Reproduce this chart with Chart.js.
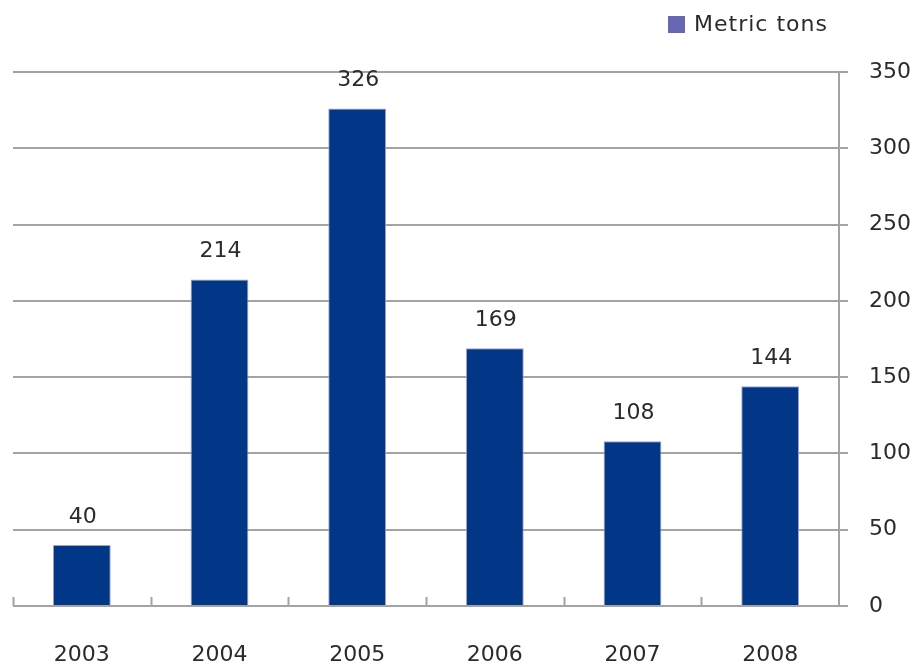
<!DOCTYPE html>
<html>
<head>
<meta charset="utf-8">
<script src="https://cdn.jsdelivr.net/npm/chart.js@4.4.0/dist/chart.umd.min.js"></script>
<style>
    html, body { margin: 0; padding: 0; background: #fff; }
    #wrap { width: 912px; height: 666px; }
</style>
</head>
<body>
<div id="wrap"><canvas id="chart" width="912" height="666"></canvas></div>
<script>
// chart data
const years = ['2003', '2004', '2005', '2006', '2007', '2008'];
const metricTons = [40, 214, 326, 169, 108, 144];
const seriesName = 'Metric tons';
const yTicks = [0, 50, 100, 150, 200, 250, 300, 350];

const BAR_COLOR = '#023686';
const LEGEND_COLOR = '#6666b3';
const GRID_COLOR = '#a3a3a3';
const TEXT_COLOR = '#2b2b2b';
const FONT = "'DejaVu Sans', Verdana, sans-serif";

// value labels above bars, category tick marks, legend
const extras = {
    id: 'extras',
    afterDatasetsDraw(chart) {
        const ctx = chart.ctx;
        const meta = chart.getDatasetMeta(0);
        ctx.save();
        ctx.fillStyle = TEXT_COLOR;
        ctx.font = `22px ${FONT}`;
        ctx.textAlign = 'center';
        ctx.textBaseline = 'bottom';
        meta.data.forEach((bar, i) => {
            ctx.fillText(String(metricTons[i]), bar.x + 1, bar.y - 17);
        });
        ctx.restore();
    },
    afterDraw(chart) {
        const ctx = chart.ctx;
        const xs = chart.scales.x;
        const area = chart.chartArea;
        ctx.save();
        // tick marks at category boundaries (pointing up)
        ctx.strokeStyle = GRID_COLOR;
        ctx.lineWidth = 2;
        const step = (xs.right - xs.left) / years.length;
        for (let i = 0; i < years.length; i++) {
            const x = Math.round(xs.left + i * step) + 0.5;
            ctx.beginPath();
            ctx.moveTo(x, area.bottom);
            ctx.lineTo(x, area.bottom - 9);
            ctx.stroke();
        }
        // legend
        ctx.fillStyle = LEGEND_COLOR;
        ctx.fillRect(668, 16, 17, 17);
        ctx.fillStyle = TEXT_COLOR;
        ctx.font = `22px ${FONT}`;
        ctx.textAlign = 'left';
        ctx.textBaseline = 'middle';
        ctx.letterSpacing = '1px';
        ctx.fillText(seriesName, 694, 25);
        ctx.restore();
    }
};

new Chart(document.getElementById('chart'), {
    type: 'bar',
    data: {
        labels: years,
        datasets: [{
            label: seriesName,
            data: metricTons,
            backgroundColor: BAR_COLOR,
            borderColor: '#a3a3cc',
            borderWidth: 1,
            categoryPercentage: 1,
            barPercentage: 0.42
        }]
    },
    options: {
        responsive: false,
        animation: false,
        layout: { padding: { left: 13, top: 72, right: 0, bottom: 0 } },
        plugins: {
            legend: { display: false },
            tooltip: { enabled: false }
        },
        scales: {
            x: {
                grid: { display: false, drawTicks: false },
                border: { display: false },
                ticks: {
                    color: TEXT_COLOR,
                    font: { family: FONT, size: 22 },
                    padding: 36,
                    maxRotation: 0
                },
                afterFit(scale) { scale.height = 60; }
            },
            y: {
                position: 'right',
                min: 0,
                max: 350,
                afterBuildTicks(scale) {
                    scale.ticks = yTicks.map(v => ({ value: v }));
                },
                grid: {
                    color: GRID_COLOR,
                    lineWidth: 2,
                    tickLength: 9
                },
                border: { display: true, color: GRID_COLOR, width: 2 },
                ticks: {
                    color: TEXT_COLOR,
                    font: { family: FONT, size: 22 },
                    padding: 21
                },
                afterFit(scale) { scale.width = 73; }
            }
        }
    },
    plugins: [extras]
});
</script>
</body>
</html>
